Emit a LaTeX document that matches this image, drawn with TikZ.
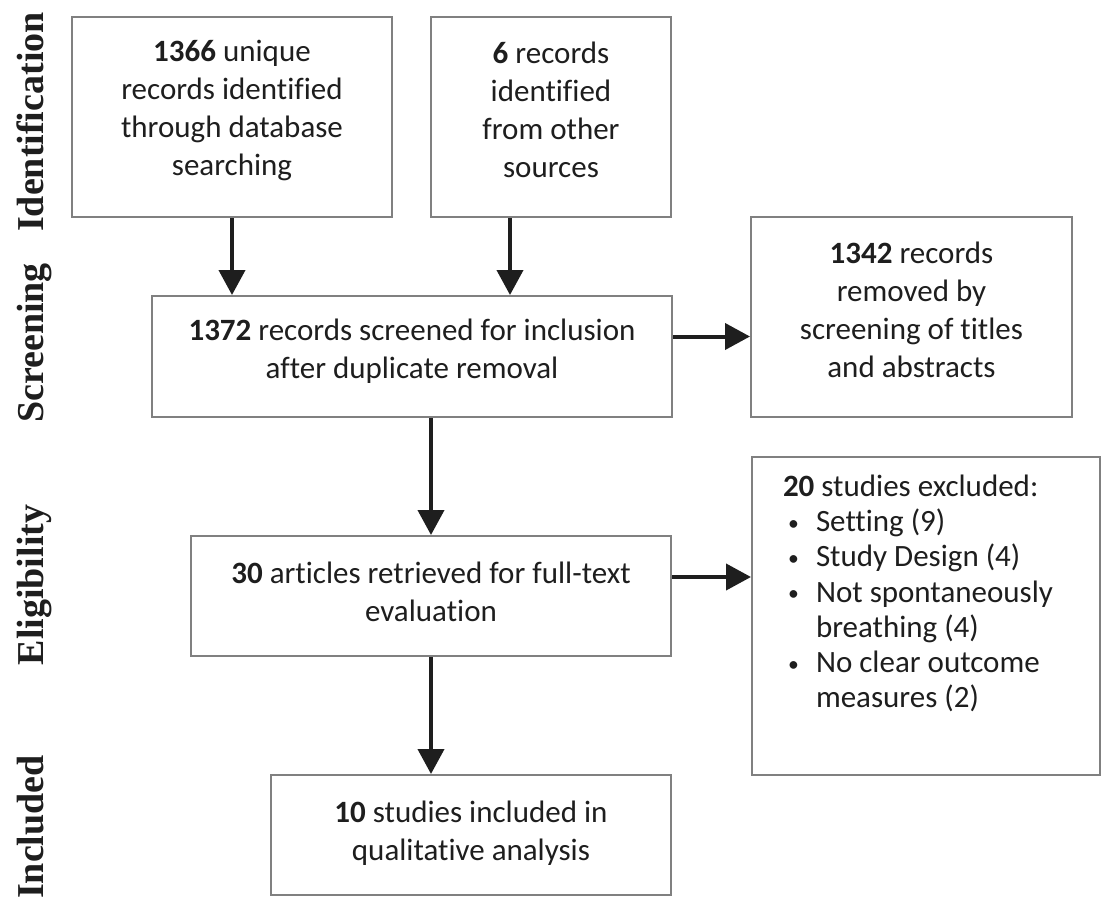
\documentclass[tikz,border=0pt]{standalone}
\usepackage{fontspec}
\setmainfont{Carlito}[Ligatures={NoCommon}]
\newfontfamily\sidefont{Liberation Serif}
\usetikzlibrary{arrows.meta,calc}
\newlength\px \setlength\px{0.75pt}
\definecolor{boxgray}{HTML}{808080}
\definecolor{ink}{HTML}{1E1E1E}
% centred text block of a box: width, height, upward shift x2, content
\newcommand\btxt[4]{\parbox[c][#2\px][c]{#1\px}{\centering #4\par\vspace*{#3\px}}}
\newcommand\bul{\makebox[28\px][l]{\raisebox{1.5\px}{\scalebox{0.7}{•}}}}
\begin{document}
\begin{tikzpicture}[x=0.75pt,y=-0.75pt,
  box/.style={draw=boxgray,line width=1.5pt,inner sep=0pt,text=ink,
    font=\fontsize{23.25pt}{28.5pt}\selectfont},
  arr/.style={draw=ink,line width=3pt,-{Triangle[width=19.5pt,length=18.75pt]}},
  phase/.style={rotate=90,anchor=base,text=ink,
    font=\sidefont\bfseries\fontsize{28.5pt}{30pt}\selectfont}]
\useasboundingbox (0,0) rectangle (1101,900);
\fill[white] (0,0) rectangle (1101,900);

\node[phase] (p1) at (43,122) {Identification};
\node[phase] (p2) at (43,343) {Screening};
\node[phase] (p3) at (43,585) {Eligibility};
\node[phase] (p4) at (43,827) {Included};

\node[box] (A) at (232,117)
  {\btxt{320}{200}{14}{\textbf{1366} unique\\records identified\\through database\\searching}};
\node[box] (B) at (551,117)
  {\btxt{240}{200}{14}{\textbf{6} records\\identified\\from other\\sources}};
\node[box] (S) at (412,356.5)
  {\btxt{520}{121}{10}{\textbf{1372} records screened for inclusion\\after duplicate removal}};
\node[box] (C) at (911.5,317)
  {\btxt{321}{200}{15}{\textbf{1342} records\\removed by\\screening of titles\\and abstracts}};
\node[box] (D) at (431,596)
  {\btxt{480}{120}{8}{\textbf{30} articles retrieved for full-text\\evaluation}};
\node[box] (E) at (926,616)
  {\parbox[c][318\px][t]{348\px}{\fontsize{23.25pt}{26.4pt}\selectfont\raggedright
   \vspace*{18\px}%
   \hspace*{31\px}\textbf{20} studies excluded:\\
   \hspace*{36\px}\bul Setting (9)\\
   \hspace*{36\px}\bul Study Design (4)\\
   \hspace*{36\px}\bul Not spontaneously\\
   \hspace*{64\px}breathing (4)\\
   \hspace*{36\px}\bul No clear outcome\\
   \hspace*{64\px}measures (2)}};
\node[box] (F) at (471,835)
  {\btxt{400}{120}{4}{\textbf{10} studies included in\\qualitative analysis}};

\draw[arr] (A.south) -- (A.south |- S.north);
\draw[arr] ($(B.south west)+(80,0)$) coordinate (b1) -- (b1 |- S.north);
\draw[arr] ($(S.east)+(0,-20)$) coordinate (s1) -- (s1 -| C.west);
\draw[arr] (D.north |- S.south) -- (D.north);
\draw[arr] ($(D.east)+(0,-19)$) coordinate (d1) -- (d1 -| E.west);
\draw[arr] (D.south) -- (D.south |- F.north);
\end{tikzpicture}
\end{document}
